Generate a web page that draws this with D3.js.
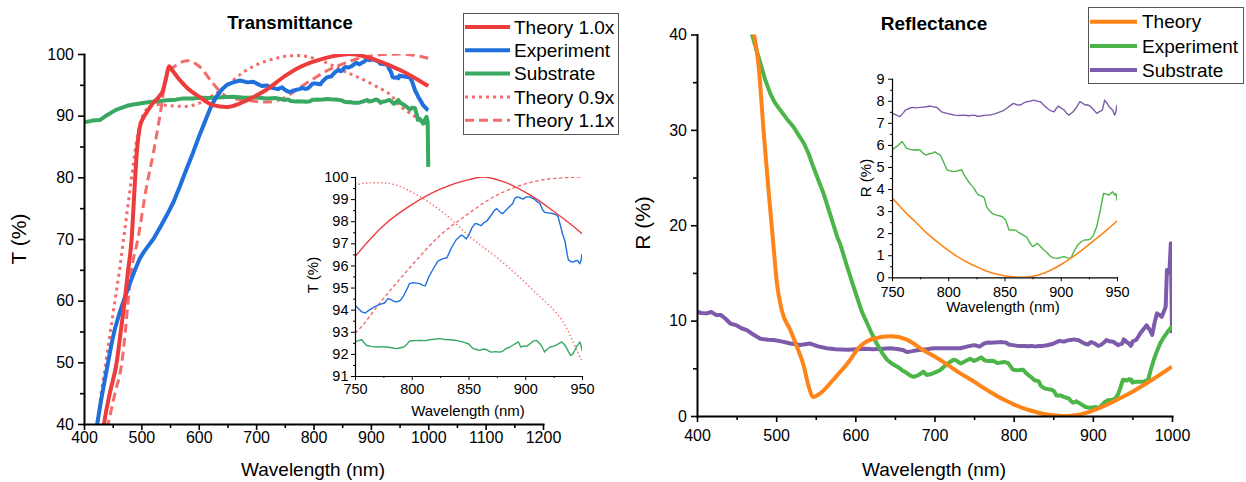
<!DOCTYPE html>
<html>
<head>
<meta charset="utf-8">
<script src="https://cdn.jsdelivr.net/npm/d3@7/dist/d3.min.js"></script>
<style>
  html, body { margin: 0; padding: 0; background: #fff; }
  svg { display: block; font-family: "Liberation Sans", Arial, sans-serif; }
</style>
</head>
<body>
<svg id="chart" width="1246" height="482"></svg>
<script>
// ---------- tick values ----------
const transXTicks = [400, 500, 600, 700, 800, 900, 1000, 1100, 1200];
const transXMinor = [450, 550, 650, 750, 850, 950, 1050, 1150];
const transYTicks = [40, 50, 60, 70, 80, 90, 100];
const transYMinor = [45, 55, 65, 75, 85, 95];
const reflXTicks = [400, 500, 600, 700, 800, 900, 1000];
const reflXMinor = [450, 550, 650, 750, 850, 950];
const reflYTicks = [0, 10, 20, 30, 40];
const reflYMinor = [5, 15, 25, 35];
const insetXTicks = [750, 800, 850, 900, 950];
const insetXMinor = [775, 825, 875, 925];
const transInsetYTicks = [91, 92, 93, 94, 95, 96, 97, 98, 99, 100];
const transInsetYMinor = [91.5, 92.5, 93.5, 94.5, 95.5, 96.5, 97.5, 98.5, 99.5];
const reflInsetYTicks = [0, 1, 2, 3, 4, 5, 6, 7, 8, 9];
const reflInsetYMinor = [0.5, 1.5, 2.5, 3.5, 4.5, 5.5, 6.5, 7.5, 8.5];

// ---------- legend labels ----------
const transLegend = ["Theory 1.0x", "Experiment", "Substrate", "Theory 0.9x", "Theory 1.1x"];
const reflLegend = ["Theory", "Experiment", "Substrate"];

// ---------- transmittance data: [wavelength nm, T %] ----------
const transTheory10 = [[430,36],[435,40],[445,45],[457,50],[464,55],[471,60],[477,65],[483,70],[488,78],[492,84],[497,88],[503,89.6],[509,90.5],[520,92],[530,93],[538,94.2],[544,96.5],[548,98],[555,97.2],[565,96],[580,94.5],[602,93],[625,91.7],[648,91.4],[672,92],[695,93],[718,94.2],[750,96.4],[775,97.8],[800,98.75],[825,99.45],[850,99.88],[863,100],[880,99.8],[907,99.1],[925,98.45],[950,97.44],[975,96.2],[1000,94.8]];

const transTheory09 = [[415,37],[423,40],[430,45],[438,50],[446,55],[454,60],[462,65],[469,70],[476,75],[483,80],[490,85],[497,88.5],[505,90.5],[515,91.5],[530,91.8],[550,91.6],[575,91.5],[600,92.0],[625,93.3],[650,95],[680,97.2],[707,98.5],[735,99.3],[750,99.62],[760,99.73],[772,99.74],[787,99.62],[800,99.32],[819,98.72],[834,98.12],[848,97.44],[878,96.23],[907,94.87],[936,93.2],[950,91.68],[975,90.0],[1000,88.5]];

const transTheory11 = [[435,37],[442,40],[454,45],[466,50],[472,55],[477,60],[483,65],[494,70],[509,78.5],[521,84],[532,89.8],[544,96.3],[561,98.2],[581,98.9],[602,97.9],[625,95.2],[649,93.1],[683,92.5],[718,92.2],[750,92.94],[775,94.5],[800,96.0],[825,97.36],[848,98.27],[872,99.1],[892,99.55],[913,99.85],[936,99.97],[950,100],[975,99.8],[1000,99.3]];

const transExperiment = [[420,38],[423,40],[430,44],[436,47],[442,50],[448,53],[454,55.5],[462,58],[471,60.5],[480,62.8],[489,65],[497,66.8],[505,68],[513,69],[521,70],[532,71.8],[544,73.8],[556,76],[567,78.5],[578,81.2],[590,84],[602,87],[614,89.8],[622,91.6],[631,93.1],[640,94.2],[649,95],[660,95.4],[672,95.7],[685,95.4],[695,95.5],[701,95.2],[710,94.8],[718,94.9],[728,94.5],[738,94.3],[745,94.6],
  [750,94.2],[753,94.05],[756,93.9],[759,93.85],[763,94.0],[768,94.15],[772,94.24],[776,94.3],[779,94.5],[782,94.45],[784,94.38],[787,94.35],[790,94.42],[793,94.65],[796,94.95],[798,95.18],[801,95.22],[804,95.2],[807,95.18],[810,95.1],[812,95.08],[815,95.48],[819,95.85],[823,96.2],[827,96.3],[831,96.35],[835,96.8],[839,97.15],[842,97.3],[844,97.38],[846,97.3],[848,97.2],[850,97.35],[853,97.7],[856,97.9],[859,97.85],[861,97.8],[864,97.95],[866,98.0],[870,98.27],[873,98.5],[875,98.57],[878,98.4],[880,98.34],[883,98.5],[886,98.65],[889,98.8],[891,99.05],[893,99.1],[896,99.05],[898,99.0],[901,99.1],[904,99.1],[906,99.05],[908,99.0],[910,98.9],[913,98.8],[915,98.55],[917,98.4],[920,98.38],[924,98.35],[927,98.3],[929,98.2],[931,97.8],[933,97.4],[935,97.1],[937,96.5],[938,96.25],[940,96.18],[942,96.15],[944,96.2],[946,96.23],[948,96.08],[949,96.2],[950,96.5],
  [955,96.4],[960,96.3],[965,96.25],[968,96.2],[972,95.5],[977,94.1],[983,93.0],[988,92.2],[991,91.7],[995,91.3],[998,91.0],[1000,90.9]];

const transSubstrate = [[400,89.0],[405,89.0],[415,89.2],[428,89.3],[437,89.9],[445,90.35],[455,90.9],[463,91.2],[475,91.6],[486,91.8],[500,92.0],[515,92.2],[530,92.35],[544,92.5],[560,92.6],[573,92.8],[590,92.8],[602,92.9],[620,92.85],[640,93.0],[660,93.05],[680,92.9],[700,92.95],[718,92.8],[735,92.85],
  [750,92.54],[753,92.6],[756,92.64],[758,92.5],[760,92.39],[765,92.33],[769,92.31],[773,92.33],[778,92.31],[782,92.28],[787,92.24],[790,92.28],[793,92.31],[796,92.45],[798,92.58],[803,92.6],[807,92.61],[812,92.6],[816,92.64],[820,92.66],[825,92.69],[829,92.65],[834,92.64],[838,92.62],[842,92.58],[846,92.52],[850,92.46],[852,92.35],[854,92.24],[857,92.2],[860,92.16],[863,92.22],[866,92.19],[868,92.12],[870,92.08],[874,92.1],[878,92.08],[881,92.15],[883,92.24],[886,92.3],[889,92.39],[891,92.45],[894,92.54],[896,92.31],[899,92.36],[901,92.34],[904,92.45],[907,92.58],[910,92.61],[912,92.5],[914,92.39],[916,92.2],[917,92.08],[919,92.2],[922,92.31],[925,92.35],[927,92.39],[930,92.48],[932,92.54],[934,92.45],[936,92.31],[938,92.1],[940,91.93],[942,92.0],[944,92.2],[945,92.31],[947,92.45],[948,92.54],[949,92.4],[950,92.16],
  [955,91.9],[960,91.6],[964,91.3],[968,91.0],[972,91.3],[977,91.2],[980,90.2],[982,89.3],[985,89.5],[988,89.1],[991,88.7],[994,89.3],[997,89.8],[999,89.0],[1000,81.7]];

// ---------- reflectance data: [wavelength nm, R %] ----------
const reflTheory = [[470,41],[472,40],[478,36.6],[484,30],[490,24],[496,18.4],[501,13.9],[507,11.1],[518,9.0],[526,7.3],[535,5.2],[541,3.1],[547,2.0],[556,2.4],[572,3.8],[590,5.5],[606,7.3],[623,8.1],[645,8.35],[665,8.0],[686,6.9],[707,5.9],[730,4.6],[750,3.6],[760,3.05],[770,2.55],[780,2.05],[790,1.62],[800,1.22],[810,0.88],[820,0.6],[830,0.37],[840,0.18],[850,0.07],[860,0.01],[865,0],[870,0.01],[880,0.1],[890,0.3],[900,0.57],[910,0.9],[920,1.28],[930,1.68],[940,2.1],[950,2.55],[975,3.8],[1000,5.17]];

const reflExperiment = [[468,41],[469.5,40],[475,38.4],[480,37],[486,35.3],[492.6,33.8],[498,32.9],[505,32.1],[513,31.2],[522,30.3],[528,29.5],[535,28.6],[541,27.5],[547,26.1],[553,24.8],[560,23.3],[568,21.2],[577,18.8],[581,18.0],[589.5,15.7],[596,14],[602,12.5],[608,11],[615,9.7],[621,8.6],[627,7.6],[634,6.6],[640,5.9],[646,5.5],[653,5.17],[659,4.8],[665,4.5],[670,4.2],[674,4.1],[680,4.3],[686,4.65],[690,4.3],[696,4.4],[703,4.65],[707,4.8],[715,5.4],[724,5.9],[728,5.8],[733,5.5],[740,5.8],[745,6.0],
  [750,5.77],[752,5.85],[754,5.92],[757,6.05],[759,6.15],[761,6.0],[763,5.84],[766,5.8],[769,5.77],[772,5.78],[775,5.77],[777,5.65],[780,5.54],[783,5.6],[786,5.62],[788,5.69],[790,5.62],[793,5.54],[796,5.2],[799,4.86],[802,4.82],[805,4.79],[808,4.82],[810,4.85],[812,4.86],[814,4.65],[817,4.41],[820,4.2],[823,4.03],[825,3.85],[827,3.73],[830,3.68],[832,3.6],[834,3.2],[837,3.0],[839,2.9],[841,2.85],[843,2.82],[846,2.78],[848,2.75],[851,2.6],[853,2.3],[854,2.14],[857,2.15],[860,2.14],[862,2.05],[864,1.99],[867,1.9],[870,1.81],[872,1.6],[875,1.39],[877,1.45],[879,1.54],[882,1.4],[885,1.24],[888,1.1],[891,0.94],[894,0.88],[897,0.86],[900,0.9],[903,0.94],[906,0.88],[909,0.86],[912,1.2],[915,1.46],[918,1.6],[921,1.69],[924,1.7],[926,1.72],[929,1.9],[932,2.3],[935,3.0],[938,3.8],[940,3.78],[943,3.73],[946,3.88],[948,3.73],[949,3.8],[950,3.5],
  [955,3.6],[964,3.6],[970,3.8],[973,4.8],[977,5.9],[981,6.8],[985,7.6],[990,8.3],[996,9.0],[1000,9.4]];

const reflSubstrate = [[400,10.93],[405,10.8],[412,10.76],[418,10.9],[424,10.6],[430,10.6],[436,10.2],[442,9.7],[450,9.5],[456,9.2],[463,9.0],[470,8.6],[480,8.1],[490,8.0],[497,7.97],[508,7.8],[518,7.6],[530,7.44],[543,7.6],[553,7.3],[564,7.1],[575,7.0],[590,6.95],[602,7.0],[612,7.05],[623,7.0],[635,7.05],[644,7.1],[655,7.0],[661,6.9],[665,6.7],[672,6.8],[678,6.9],[690,7.0],[699,7.1],[707,7.1],[720,7.1],[733,7.1],[742,7.3],
  [750,7.43],[752,7.4],[754,7.35],[757,7.28],[760,7.45],[762,7.58],[765,7.65],[768,7.7],[771,7.68],[775,7.7],[779,7.72],[784,7.76],[787,7.72],[790,7.7],[794,7.5],[799,7.43],[803,7.38],[806,7.35],[810,7.33],[814,7.35],[818,7.32],[823,7.35],[826,7.3],[829,7.31],[833,7.35],[837,7.35],[842,7.42],[846,7.5],[849,7.55],[852,7.66],[855,7.78],[858,7.88],[861,7.82],[864,7.8],[867,7.9],[870,7.96],[873,7.98],[876,8.03],[879,7.98],[882,7.96],[885,7.8],[888,7.66],[891,7.55],[894,7.5],[896,7.65],[898,7.76],[900,7.68],[903,7.58],[905,7.45],[907,7.35],[909,7.42],[911,7.5],[914,7.7],[917,7.96],[919,7.9],[922,7.8],[924,7.82],[926,7.76],[929,7.6],[932,7.43],[934,7.5],[937,7.58],[939,8.03],[941,7.9],[943,7.73],[946,7.58],[948,7.35],[949,7.5],[950,7.8],
  [955,8.0],[960,8.67],[965,9.2],[968,9.5],[972,9.0],[975,8.5],[978,9.8],[981,10.76],[984,10.6],[987,10.4],[990,11.0],[992,11.45],[993.6,15.3],[996,15.0],[997,15.5],[998.5,18.1],[999.5,12],[1000,8.67]];

// ---------- colours ----------
const C = {
  red: "#EE3B3B", lightRed: "#F46B6B", blue: "#1F6FDC", green: "#38A862",
  orange: "#FF8418", green2: "#4BB548", purple: "#7D5BAA"
};

const svg = d3.select("#chart");
const FONT = '"Liberation Sans", Arial, sans-serif';

// Draws left/bottom axes with major and minor ticks.
function drawAxes(g, x, y, o) {
  const y0 = y.range()[0], x0 = x.range()[0];
  const styleAxis = sel => {
    sel.attr("font-family", FONT).attr("font-size", o.fontSize);
    sel.select(".domain").attr("stroke", "#000").attr("stroke-width", o.axisWidth).attr("stroke-linecap", "square");
    sel.selectAll(".tick line").attr("stroke", "#000").attr("stroke-width", o.tickWidth);
    sel.selectAll(".tick text").attr("fill", "#000");
  };
  // bottom axis
  const gx = g.append("g").attr("transform", `translate(0,${y0})`)
    .call(d3.axisBottom(x).tickValues(o.xMajor).tickSize(o.major).tickSizeOuter(0).tickFormat(d3.format("d")))
    .call(styleAxis);
  gx.selectAll(".tick text").attr("y", o.xLabelY).attr("dy", "0.71em");
  g.append("g").attr("transform", `translate(0,${y0})`)
    .call(d3.axisBottom(x).tickValues(o.xMinor).tickSize(o.minor).tickFormat(""))
    .call(styleAxis).call(s => s.select(".domain").remove());
  // left axis
  const gy = g.append("g").attr("transform", `translate(${x0},0)`)
    .call(d3.axisLeft(y).tickValues(o.yMajor).tickSize(o.major).tickSizeOuter(0).tickFormat(d3.format("d")))
    .call(styleAxis);
  gy.selectAll(".tick text").attr("x", -o.yLabelX);
  g.append("g").attr("transform", `translate(${x0},0)`)
    .call(d3.axisLeft(y).tickValues(o.yMinor).tickSize(o.minor).tickFormat(""))
    .call(styleAxis).call(s => s.select(".domain").remove());
}

function drawSeries(g, x, y, series, clipId) {
  const clip = g.append("g").attr("clip-path", `url(#${clipId})`);
  series.forEach(s => {
    const line = d3.line().x(d => x(d[0])).y(d => y(d[1]))
      .curve(s.smooth ? d3.curveMonotoneX : d3.curveLinear);
    clip.append("path").datum(s.data)
      .attr("fill", "none").attr("stroke", s.color).attr("stroke-width", s.width)
      .attr("stroke-dasharray", s.dash || null)
      .attr("stroke-linejoin", "round")
      .attr("d", line);
  });
}

function addClip(id, x, y) {
  svg.append("defs").append("clipPath").attr("id", id).append("rect")
    .attr("x", x.range()[0]).attr("y", y.range()[1])
    .attr("width", x.range()[1] - x.range()[0]).attr("height", y.range()[0] - y.range()[1]);
}

function text(g, str, x, y, size, opts = {}) {
  const t = g.append("text").attr("x", x).attr("y", y).text(str)
    .attr("font-family", FONT).attr("font-size", size).attr("fill", "#000")
    .attr("text-anchor", opts.anchor || "middle");
  if (opts.bold) t.attr("font-weight", "bold");
  if (opts.rotate) t.attr("transform", `rotate(-90,${x},${y})`);
  if (opts.dy) t.attr("dy", opts.dy);
  return t;
}

const mainAxisOpts = { major: 6, minor: 4, axisWidth: 2, tickWidth: 1.6, fontSize: 16, xLabelY: 8, yLabelX: 10 };
const insetAxisOpts = { major: 4, minor: 2, axisWidth: 1.2, tickWidth: 1, fontSize: 14.5, xLabelY: 7.5, yLabelX: 6.5 };

// ================= Transmittance =================
{
  const g = svg.append("g");
  const x = d3.scaleLinear().domain([400, 1200]).range([84, 543]);
  const y = d3.scaleLinear().domain([40, 100]).range([424, 54]);
  addClip("clipT", x, y);
  drawSeries(g, x, y, [
    { data: transTheory09, color: C.lightRed, width: 3, dash: "3,4", smooth: true },
    { data: transTheory11, color: C.lightRed, width: 3, dash: "9,5", smooth: true },
    { data: transSubstrate, color: C.green, width: 4 },
    { data: transExperiment, color: C.blue, width: 4 },
    { data: transTheory10, color: C.red, width: 4, smooth: true }
  ], "clipT");
  drawAxes(g, x, y, Object.assign({}, mainAxisOpts, { xMajor: transXTicks, xMinor: transXMinor, yMajor: transYTicks, yMinor: transYMinor }));
  text(g, "Transmittance", 290, 29, 18.5, { bold: true });
  text(g, "Wavelength (nm)", 313, 476, 19);
  text(g, "T (%)", 26, 239, 21, { rotate: true });

  // inset
  const xi = d3.scaleLinear().domain([750, 950]).range([355, 582]);
  const yi = d3.scaleLinear().domain([91, 100]).range([376, 177]);
  addClip("clipTi", xi, yi);
  drawSeries(g, xi, yi, [
    { data: transTheory09, color: C.lightRed, width: 1.4, dash: "1.4,2.4", smooth: true },
    { data: transTheory11, color: C.lightRed, width: 1.4, dash: "3.5,2.5", smooth: true },
    { data: transSubstrate, color: C.green, width: 1.4 },
    { data: transExperiment, color: C.blue, width: 1.4 },
    { data: transTheory10, color: C.red, width: 1.4, smooth: true }
  ], "clipTi");
  drawAxes(g, xi, yi, Object.assign({}, insetAxisOpts, { xMajor: insetXTicks, xMinor: insetXMinor, yMajor: transInsetYTicks, yMinor: transInsetYMinor }));
  text(g, "Wavelength (nm)", 468, 416, 15);
  text(g, "T (%)", 318, 275, 15, { rotate: true });

  // legend
  const lg = g.append("g");
  lg.append("rect").attr("x", 463.5).attr("y", 13.5).attr("width", 155).attr("height", 121)
    .attr("fill", "#fff").attr("stroke", "#555").attr("stroke-width", 1);
  const styles = [
    { color: C.red, width: 4 }, { color: C.blue, width: 4 }, { color: C.green, width: 4 },
    { color: C.lightRed, width: 3, dash: "3,4" }, { color: C.lightRed, width: 3, dash: "9,5" }
  ];
  transLegend.forEach((label, i) => {
    const yy = 27 + i * 23.3;
    lg.append("line").attr("x1", 465).attr("x2", 510).attr("y1", yy).attr("y2", yy)
      .attr("stroke", styles[i].color).attr("stroke-width", styles[i].width)
      .attr("stroke-dasharray", styles[i].dash || null);
    text(lg, label, 514, yy, 19, { anchor: "start", dy: "0.35em" });
  });
}

// ================= Reflectance =================
{
  const g = svg.append("g");
  const x = d3.scaleLinear().domain([400, 1000]).range([697, 1172]);
  const y = d3.scaleLinear().domain([0, 40]).range([416, 34.5]);
  addClip("clipR", x, y);
  drawSeries(g, x, y, [
    { data: reflSubstrate, color: C.purple, width: 4 },
    { data: reflExperiment, color: C.green2, width: 4 },
    { data: reflTheory, color: C.orange, width: 4, smooth: true }
  ], "clipR");
  drawAxes(g, x, y, Object.assign({}, mainAxisOpts, { xMajor: reflXTicks, xMinor: reflXMinor, yMajor: reflYTicks, yMinor: reflYMinor, xLabelY: 14 }));
  text(g, "Reflectance", 934, 30, 19, { bold: true });
  text(g, "Wavelength (nm)", 934, 476, 19);
  text(g, "R (%)", 650, 223, 21, { rotate: true });

  // inset
  const xi = d3.scaleLinear().domain([750, 950]).range([892, 1117]);
  const yi = d3.scaleLinear().domain([0, 9]).range([277.3, 78.7]);
  addClip("clipRi", xi, yi);
  drawSeries(g, xi, yi, [
    { data: reflSubstrate, color: C.purple, width: 1.4 },
    { data: reflExperiment, color: C.green2, width: 1.4 },
    { data: reflTheory, color: C.orange, width: 1.6, smooth: true }
  ], "clipRi");
  drawAxes(g, xi, yi, Object.assign({}, insetAxisOpts, { xMajor: insetXTicks, xMinor: insetXMinor, yMajor: reflInsetYTicks, yMinor: reflInsetYMinor, xLabelY: 9.5, yLabelX: 7.5 }));
  text(g, "Wavelength (nm)", 1003, 312, 15);
  text(g, "R (%)", 871, 178, 15, { rotate: true });

  // legend
  const lg = g.append("g");
  lg.append("rect").attr("x", 1088.5).attr("y", 7.5).attr("width", 155).attr("height", 76)
    .attr("fill", "#fff").attr("stroke", "#555").attr("stroke-width", 1);
  const cols = [C.orange, C.green2, C.purple];
  reflLegend.forEach((label, i) => {
    const yy = 21.7 + i * 24.2;
    lg.append("line").attr("x1", 1090).attr("x2", 1137).attr("y1", yy).attr("y2", yy)
      .attr("stroke", cols[i]).attr("stroke-width", 4);
    text(lg, label, 1142, yy, 19, { anchor: "start", dy: "0.35em" });
  });
}
</script>
</body>
</html>
